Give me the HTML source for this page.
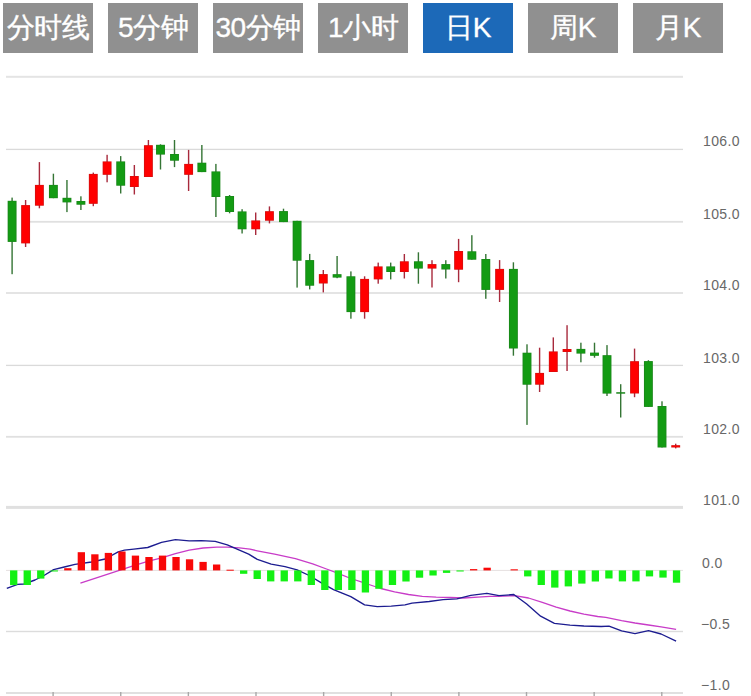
<!DOCTYPE html>
<html><head><meta charset="utf-8"><style>
html,body{margin:0;padding:0;background:#fff;width:751px;height:696px;overflow:hidden;position:relative}
.btn{position:absolute;top:3px;width:90px;height:50px;background:#909090;color:#fff;font-family:"Liberation Sans",sans-serif;font-size:28px;line-height:49px;text-align:center;white-space:nowrap;letter-spacing:-0.5px;-webkit-text-stroke:0.35px #fff}
.btn.on{background:#1c69b8}
svg{position:absolute;left:0;top:0}
.lb{font-family:"Liberation Sans",sans-serif;font-size:14px;fill:#686868;letter-spacing:0.4px}
</style></head><body>
<div class="btn" style="left:3px">分时线</div><div class="btn" style="left:108px">5分钟</div><div class="btn" style="left:213px">30分钟</div><div class="btn" style="left:318px">1小时</div><div class="btn on" style="left:423px">日K</div><div class="btn" style="left:528px">周K</div><div class="btn" style="left:633px">月K</div>
<svg width="751" height="696" viewBox="0 0 751 696">
<rect x="6" y="75.80" width="677" height="2" fill="#e4e4e4"/>
<rect x="6" y="148.75" width="677" height="1.3" fill="#dadada"/>
<rect x="30" y="220.90" width="653" height="1.8" fill="#e0e0e0"/>
<rect x="6" y="292.20" width="677" height="1.6" fill="#dedede"/>
<rect x="6" y="364.75" width="677" height="1.3" fill="#dadada"/>
<rect x="6" y="435.90" width="677" height="1.8" fill="#e0e0e0"/>
<rect x="6" y="505.90" width="677" height="3" fill="#e0e0e0"/>
<rect x="6" y="569.9" width="677" height="1" fill="#e6e0e0"/>
<rect x="6" y="630.8" width="677" height="1.4" fill="#dcdcdc"/>
<rect x="6" y="692" width="677" height="2" fill="#e0e0e0"/>
<rect x="52.41" y="692" width="1.4" height="4" fill="#a8a8a8"/>
<rect x="120.04" y="692" width="1.4" height="4" fill="#a8a8a8"/>
<rect x="187.67" y="692" width="1.4" height="4" fill="#a8a8a8"/>
<rect x="255.30" y="692" width="1.4" height="4" fill="#a8a8a8"/>
<rect x="322.93" y="692" width="1.4" height="4" fill="#a8a8a8"/>
<rect x="390.56" y="692" width="1.4" height="4" fill="#a8a8a8"/>
<rect x="458.19" y="692" width="1.4" height="4" fill="#a8a8a8"/>
<rect x="525.82" y="692" width="1.4" height="4" fill="#a8a8a8"/>
<rect x="593.45" y="692" width="1.4" height="4" fill="#a8a8a8"/>
<rect x="661.08" y="692" width="1.4" height="4" fill="#a8a8a8"/>
<text x="703" y="146" class="lb">106.0</text>
<text x="703" y="218.5" class="lb">105.0</text>
<text x="703" y="290" class="lb">104.0</text>
<text x="703" y="362.5" class="lb">103.0</text>
<text x="703" y="434" class="lb">102.0</text>
<text x="703" y="505" class="lb">101.0</text>
<text x="702" y="568" class="lb">0.0</text>
<text x="701" y="629" class="lb">−0.5</text>
<text x="701" y="690" class="lb">−1.0</text>
<rect x="11.40" y="197.6" width="1.4" height="76.6" fill="#357535"/>
<rect x="7.65" y="200.8" width="8.9" height="41.1" fill="#1a861a"/>
<rect x="8.45" y="201.4" width="7.3" height="39.9" fill="#139b13"/>
<rect x="24.90" y="200.0" width="1.4" height="47.0" fill="#a82a3c"/>
<rect x="21.15" y="205.1" width="8.9" height="38.3" fill="#d41010"/>
<rect x="21.95" y="205.7" width="7.3" height="37.1" fill="#ff0000"/>
<rect x="38.70" y="162.1" width="1.4" height="46.2" fill="#a82a3c"/>
<rect x="34.95" y="184.9" width="8.9" height="20.8" fill="#d41010"/>
<rect x="35.75" y="185.5" width="7.3" height="19.6" fill="#ff0000"/>
<rect x="52.70" y="173.7" width="1.4" height="24.5" fill="#357535"/>
<rect x="48.95" y="184.9" width="8.9" height="13.3" fill="#1a861a"/>
<rect x="49.75" y="185.5" width="7.3" height="12.1" fill="#139b13"/>
<rect x="66.25" y="180.0" width="1.4" height="32.1" fill="#357535"/>
<rect x="62.50" y="197.8" width="8.9" height="4.6" fill="#1a861a"/>
<rect x="63.30" y="198.4" width="7.3" height="3.4" fill="#139b13"/>
<rect x="80.20" y="196.3" width="1.4" height="13.7" fill="#357535"/>
<rect x="76.45" y="201.0" width="8.9" height="3.7" fill="#1a861a"/>
<rect x="77.25" y="201.6" width="7.3" height="2.5" fill="#139b13"/>
<rect x="92.60" y="172.6" width="1.4" height="33.6" fill="#a82a3c"/>
<rect x="88.85" y="173.9" width="8.9" height="29.9" fill="#d41010"/>
<rect x="89.65" y="174.5" width="7.3" height="28.7" fill="#ff0000"/>
<rect x="106.40" y="154.8" width="1.4" height="27.5" fill="#a82a3c"/>
<rect x="102.65" y="161.4" width="8.9" height="13.4" fill="#d41010"/>
<rect x="103.45" y="162.0" width="7.3" height="12.2" fill="#ff0000"/>
<rect x="120.00" y="156.1" width="1.4" height="37.4" fill="#357535"/>
<rect x="116.25" y="161.4" width="8.9" height="24.3" fill="#1a861a"/>
<rect x="117.05" y="162.0" width="7.3" height="23.1" fill="#139b13"/>
<rect x="133.65" y="165.0" width="1.4" height="29.5" fill="#a82a3c"/>
<rect x="129.90" y="176.0" width="8.9" height="11.0" fill="#d41010"/>
<rect x="130.70" y="176.6" width="7.3" height="9.8" fill="#ff0000"/>
<rect x="147.70" y="140.0" width="1.4" height="37.0" fill="#a82a3c"/>
<rect x="143.95" y="145.2" width="8.9" height="31.8" fill="#d41010"/>
<rect x="144.75" y="145.8" width="7.3" height="30.6" fill="#ff0000"/>
<rect x="159.80" y="144.3" width="1.4" height="25.2" fill="#357535"/>
<rect x="156.05" y="144.8" width="8.9" height="9.8" fill="#1a861a"/>
<rect x="156.85" y="145.4" width="7.3" height="8.6" fill="#139b13"/>
<rect x="173.80" y="140.0" width="1.4" height="27.1" fill="#357535"/>
<rect x="170.05" y="154.0" width="8.9" height="6.7" fill="#1a861a"/>
<rect x="170.85" y="154.6" width="7.3" height="5.5" fill="#139b13"/>
<rect x="187.90" y="149.9" width="1.4" height="41.1" fill="#a82a3c"/>
<rect x="184.15" y="163.9" width="8.9" height="10.9" fill="#d41010"/>
<rect x="184.95" y="164.5" width="7.3" height="9.7" fill="#ff0000"/>
<rect x="201.15" y="145.0" width="1.4" height="27.1" fill="#357535"/>
<rect x="197.40" y="162.7" width="8.9" height="9.4" fill="#1a861a"/>
<rect x="198.20" y="163.3" width="7.3" height="8.2" fill="#139b13"/>
<rect x="215.20" y="163.9" width="1.4" height="53.1" fill="#357535"/>
<rect x="211.45" y="171.4" width="8.9" height="25.6" fill="#1a861a"/>
<rect x="212.25" y="172.0" width="7.3" height="24.4" fill="#139b13"/>
<rect x="228.90" y="195.0" width="1.4" height="18.3" fill="#357535"/>
<rect x="225.15" y="196.0" width="8.9" height="16.0" fill="#1a861a"/>
<rect x="225.95" y="196.6" width="7.3" height="14.8" fill="#139b13"/>
<rect x="241.40" y="209.2" width="1.4" height="24.3" fill="#357535"/>
<rect x="237.65" y="211.4" width="8.9" height="17.9" fill="#1a861a"/>
<rect x="238.45" y="212.0" width="7.3" height="16.7" fill="#139b13"/>
<rect x="255.00" y="212.5" width="1.4" height="22.5" fill="#a82a3c"/>
<rect x="251.25" y="220.4" width="8.9" height="8.9" fill="#d41010"/>
<rect x="252.05" y="221.0" width="7.3" height="7.7" fill="#ff0000"/>
<rect x="268.75" y="206.4" width="1.4" height="17.0" fill="#a82a3c"/>
<rect x="265.00" y="211.2" width="8.9" height="9.5" fill="#d41010"/>
<rect x="265.80" y="211.8" width="7.3" height="8.3" fill="#ff0000"/>
<rect x="282.80" y="208.7" width="1.4" height="13.4" fill="#357535"/>
<rect x="279.05" y="211.1" width="8.9" height="11.0" fill="#1a861a"/>
<rect x="279.85" y="211.7" width="7.3" height="9.8" fill="#139b13"/>
<rect x="296.40" y="220.8" width="1.4" height="66.8" fill="#357535"/>
<rect x="292.65" y="220.8" width="8.9" height="39.9" fill="#1a861a"/>
<rect x="293.45" y="221.4" width="7.3" height="38.7" fill="#139b13"/>
<rect x="309.00" y="253.9" width="1.4" height="35.5" fill="#357535"/>
<rect x="305.25" y="260.1" width="8.9" height="25.6" fill="#1a861a"/>
<rect x="306.05" y="260.7" width="7.3" height="24.4" fill="#139b13"/>
<rect x="322.60" y="270.0" width="1.4" height="22.4" fill="#a82a3c"/>
<rect x="318.85" y="274.1" width="8.9" height="9.4" fill="#d41010"/>
<rect x="319.65" y="274.7" width="7.3" height="8.2" fill="#ff0000"/>
<rect x="336.40" y="256.0" width="1.4" height="22.2" fill="#357535"/>
<rect x="332.65" y="274.2" width="8.9" height="3.4" fill="#1a861a"/>
<rect x="333.45" y="274.8" width="7.3" height="2.2" fill="#139b13"/>
<rect x="350.20" y="271.4" width="1.4" height="47.3" fill="#357535"/>
<rect x="346.45" y="276.3" width="8.9" height="35.8" fill="#1a861a"/>
<rect x="347.25" y="276.9" width="7.3" height="34.6" fill="#139b13"/>
<rect x="363.90" y="276.3" width="1.4" height="42.4" fill="#a82a3c"/>
<rect x="360.15" y="278.9" width="8.9" height="33.2" fill="#d41010"/>
<rect x="360.95" y="279.5" width="7.3" height="32.0" fill="#ff0000"/>
<rect x="377.50" y="262.6" width="1.4" height="21.1" fill="#a82a3c"/>
<rect x="373.75" y="266.4" width="8.9" height="13.0" fill="#d41010"/>
<rect x="374.55" y="267.0" width="7.3" height="11.8" fill="#ff0000"/>
<rect x="390.00" y="262.6" width="1.4" height="16.8" fill="#357535"/>
<rect x="386.25" y="266.4" width="8.9" height="5.6" fill="#1a861a"/>
<rect x="387.05" y="267.0" width="7.3" height="4.4" fill="#139b13"/>
<rect x="403.65" y="254.0" width="1.4" height="24.5" fill="#a82a3c"/>
<rect x="399.90" y="261.3" width="8.9" height="10.7" fill="#d41010"/>
<rect x="400.70" y="261.9" width="7.3" height="9.5" fill="#ff0000"/>
<rect x="417.70" y="252.3" width="1.4" height="31.4" fill="#357535"/>
<rect x="413.95" y="261.3" width="8.9" height="7.3" fill="#1a861a"/>
<rect x="414.75" y="261.9" width="7.3" height="6.1" fill="#139b13"/>
<rect x="431.30" y="260.2" width="1.4" height="27.3" fill="#a82a3c"/>
<rect x="427.55" y="264.1" width="8.9" height="4.5" fill="#d41010"/>
<rect x="428.35" y="264.7" width="7.3" height="3.3" fill="#ff0000"/>
<rect x="445.10" y="260.2" width="1.4" height="18.3" fill="#357535"/>
<rect x="441.35" y="264.1" width="8.9" height="5.4" fill="#1a861a"/>
<rect x="442.15" y="264.7" width="7.3" height="4.2" fill="#139b13"/>
<rect x="457.90" y="238.9" width="1.4" height="43.3" fill="#a82a3c"/>
<rect x="454.15" y="251.0" width="8.9" height="18.7" fill="#d41010"/>
<rect x="454.95" y="251.6" width="7.3" height="17.5" fill="#ff0000"/>
<rect x="471.15" y="235.2" width="1.4" height="24.5" fill="#357535"/>
<rect x="467.40" y="251.3" width="8.9" height="8.4" fill="#1a861a"/>
<rect x="468.20" y="251.9" width="7.3" height="7.2" fill="#139b13"/>
<rect x="485.10" y="254.0" width="1.4" height="44.8" fill="#357535"/>
<rect x="481.35" y="259.0" width="8.9" height="30.9" fill="#1a861a"/>
<rect x="482.15" y="259.6" width="7.3" height="29.7" fill="#139b13"/>
<rect x="498.90" y="260.1" width="1.4" height="41.9" fill="#a82a3c"/>
<rect x="495.15" y="268.9" width="8.9" height="21.0" fill="#d41010"/>
<rect x="495.95" y="269.5" width="7.3" height="19.8" fill="#ff0000"/>
<rect x="512.70" y="262.3" width="1.4" height="93.4" fill="#357535"/>
<rect x="508.95" y="268.9" width="8.9" height="79.6" fill="#1a861a"/>
<rect x="509.75" y="269.5" width="7.3" height="78.4" fill="#139b13"/>
<rect x="526.30" y="344.3" width="1.4" height="80.6" fill="#357535"/>
<rect x="522.55" y="352.7" width="8.9" height="32.0" fill="#1a861a"/>
<rect x="523.35" y="353.3" width="7.3" height="30.8" fill="#139b13"/>
<rect x="538.90" y="347.7" width="1.4" height="44.3" fill="#a82a3c"/>
<rect x="535.15" y="372.9" width="8.9" height="11.8" fill="#d41010"/>
<rect x="535.95" y="373.5" width="7.3" height="10.6" fill="#ff0000"/>
<rect x="552.60" y="337.4" width="1.4" height="34.6" fill="#a82a3c"/>
<rect x="548.85" y="351.4" width="8.9" height="20.6" fill="#d41010"/>
<rect x="549.65" y="352.0" width="7.3" height="19.4" fill="#ff0000"/>
<rect x="566.35" y="325.2" width="1.4" height="45.8" fill="#a82a3c"/>
<rect x="562.60" y="349.0" width="8.9" height="3.0" fill="#d41010"/>
<rect x="563.40" y="349.6" width="7.3" height="1.8" fill="#ff0000"/>
<rect x="580.20" y="342.7" width="1.4" height="19.6" fill="#357535"/>
<rect x="576.45" y="348.9" width="8.9" height="4.7" fill="#1a861a"/>
<rect x="577.25" y="349.5" width="7.3" height="3.5" fill="#139b13"/>
<rect x="593.80" y="342.7" width="1.4" height="15.0" fill="#357535"/>
<rect x="590.05" y="352.6" width="8.9" height="3.2" fill="#1a861a"/>
<rect x="590.85" y="353.2" width="7.3" height="2.0" fill="#139b13"/>
<rect x="606.30" y="345.1" width="1.4" height="50.9" fill="#357535"/>
<rect x="602.55" y="355.2" width="8.9" height="38.4" fill="#1a861a"/>
<rect x="603.35" y="355.8" width="7.3" height="37.2" fill="#139b13"/>
<rect x="620.00" y="384.2" width="1.4" height="33.3" fill="#357535"/>
<rect x="616.25" y="392.2" width="8.9" height="1.5" fill="#1a861a"/>
<rect x="633.85" y="348.6" width="1.4" height="48.6" fill="#a82a3c"/>
<rect x="630.10" y="361.2" width="8.9" height="32.3" fill="#d41010"/>
<rect x="630.90" y="361.8" width="7.3" height="31.1" fill="#ff0000"/>
<rect x="647.70" y="360.2" width="1.4" height="46.7" fill="#357535"/>
<rect x="643.95" y="361.1" width="8.9" height="45.8" fill="#1a861a"/>
<rect x="644.75" y="361.7" width="7.3" height="44.6" fill="#139b13"/>
<rect x="661.30" y="401.3" width="1.4" height="46.2" fill="#357535"/>
<rect x="657.55" y="406.0" width="8.9" height="41.5" fill="#1a861a"/>
<rect x="658.35" y="406.6" width="7.3" height="40.3" fill="#139b13"/>
<rect x="675.00" y="443.7" width="1.4" height="4.7" fill="#a82a3c"/>
<rect x="671.25" y="445.2" width="8.9" height="2.3" fill="#d41010"/>
<rect x="672.05" y="445.8" width="7.3" height="1.1" fill="#ff0000"/>
<polyline fill="none" stroke="#c83cc8" stroke-width="1.3" stroke-linejoin="round" points="80.4,583.2 133.8,565.7 147.7,561.4 161.5,557.9 175.4,553.6 189.2,550.1 203.1,548.0 216.9,547.2 227.3,547.2 239.4,547.8 250.0,549.2 257.3,550.8 274.6,554.2 295.4,558.6 312.7,563.8 326.5,569.0 336.9,572.9 350.8,578.5 361.2,581.9 370.4,585.0 380.8,588.5 394.6,591.9 408.5,594.5 422.3,596.3 436.2,597.1 450.0,597.5 463.9,598.0 477.7,597.1 490.0,596.3 497.3,596.3 514.6,595.7 528.5,598.0 542.3,602.3 556.2,607.2 570.0,611.0 583.9,614.1 597.7,616.5 605.8,617.4 621.6,620.6 635.0,623.0 648.5,625.0 661.1,626.9 676.1,629.3"/>
<polyline fill="none" stroke="#1c1c90" stroke-width="1.35" stroke-linejoin="round" points="6.8,588.3 17.6,584.3 24.0,584.0 35.0,580.0 44.0,575.5 53.6,569.6 64.3,567.0 75.0,564.3 91.5,562.0 105.2,559.0 118.2,551.8 124.5,550.2 133.8,549.2 147.7,547.5 161.5,542.3 175.4,539.7 189.2,540.9 201.4,540.6 215.2,541.4 227.3,544.9 239.4,550.1 248.7,554.2 257.3,559.4 271.2,564.1 285.0,566.7 297.1,569.8 309.2,575.5 321.4,582.8 333.5,589.7 350.8,596.6 364.6,604.8 377.3,606.6 391.2,606.1 405.0,604.9 412.0,603.2 429.2,601.5 443.1,599.7 456.9,598.9 470.8,595.4 486.9,593.3 499.0,595.7 513.8,594.5 526.7,604.0 540.6,616.2 554.4,623.4 570.0,625.2 583.9,626.0 601.2,626.5 609.0,626.1 621.6,630.9 635.0,633.6 648.5,630.6 661.1,634.0 676.1,641.2"/>
<rect x="10.06" y="570.4" width="7.3" height="14.7" fill="#14f014"/>
<rect x="23.59" y="570.4" width="7.3" height="14.6" fill="#14f014"/>
<rect x="37.11" y="570.4" width="7.3" height="8.2" fill="#14f014"/>
<rect x="50.64" y="570.4" width="7.3" height="1.1" fill="#14f014"/>
<rect x="64.17" y="568.2" width="7.3" height="2.2" fill="#f80808"/>
<rect x="77.69" y="552.2" width="7.3" height="18.2" fill="#f80808"/>
<rect x="91.22" y="554.3" width="7.3" height="16.1" fill="#f80808"/>
<rect x="104.75" y="552.9" width="7.3" height="17.5" fill="#f80808"/>
<rect x="118.28" y="551.5" width="7.3" height="18.9" fill="#f80808"/>
<rect x="131.80" y="555.6" width="7.3" height="14.8" fill="#f80808"/>
<rect x="145.33" y="557.0" width="7.3" height="13.4" fill="#f80808"/>
<rect x="158.86" y="555.6" width="7.3" height="14.8" fill="#f80808"/>
<rect x="172.38" y="557.0" width="7.3" height="13.4" fill="#f80808"/>
<rect x="185.91" y="559.3" width="7.3" height="11.1" fill="#f80808"/>
<rect x="199.44" y="561.9" width="7.3" height="8.5" fill="#f80808"/>
<rect x="212.97" y="564.5" width="7.3" height="5.9" fill="#f80808"/>
<rect x="226.49" y="569.7" width="7.3" height="1.0" fill="#f80808"/>
<rect x="240.02" y="570.4" width="7.3" height="3.4" fill="#14f014"/>
<rect x="253.55" y="570.4" width="7.3" height="8.6" fill="#14f014"/>
<rect x="267.07" y="570.4" width="7.3" height="11.0" fill="#14f014"/>
<rect x="280.60" y="570.4" width="7.3" height="11.0" fill="#14f014"/>
<rect x="294.13" y="570.4" width="7.3" height="11.0" fill="#14f014"/>
<rect x="307.65" y="570.4" width="7.3" height="14.6" fill="#14f014"/>
<rect x="321.18" y="570.4" width="7.3" height="19.6" fill="#14f014"/>
<rect x="334.71" y="570.4" width="7.3" height="19.6" fill="#14f014"/>
<rect x="348.23" y="570.4" width="7.3" height="19.6" fill="#14f014"/>
<rect x="361.76" y="570.4" width="7.3" height="22.1" fill="#14f014"/>
<rect x="375.29" y="570.4" width="7.3" height="18.4" fill="#14f014"/>
<rect x="388.82" y="570.4" width="7.3" height="14.6" fill="#14f014"/>
<rect x="402.34" y="570.4" width="7.3" height="11.1" fill="#14f014"/>
<rect x="415.87" y="570.4" width="7.3" height="7.3" fill="#14f014"/>
<rect x="429.40" y="570.4" width="7.3" height="5.1" fill="#14f014"/>
<rect x="442.92" y="570.4" width="7.3" height="2.5" fill="#14f014"/>
<rect x="456.45" y="570.4" width="7.3" height="1.1" fill="#14f014"/>
<rect x="469.98" y="569.1" width="7.3" height="1.3" fill="#f80808"/>
<rect x="483.50" y="567.7" width="7.3" height="2.7" fill="#f80808"/>
<rect x="510.56" y="569.3" width="7.3" height="1.1" fill="#f80808"/>
<rect x="524.09" y="570.4" width="7.3" height="6.0" fill="#14f014"/>
<rect x="537.61" y="570.4" width="7.3" height="14.6" fill="#14f014"/>
<rect x="551.14" y="570.4" width="7.3" height="17.2" fill="#14f014"/>
<rect x="564.67" y="570.4" width="7.3" height="16.0" fill="#14f014"/>
<rect x="578.19" y="570.4" width="7.3" height="13.2" fill="#14f014"/>
<rect x="591.72" y="570.4" width="7.3" height="11.1" fill="#14f014"/>
<rect x="605.25" y="570.4" width="7.3" height="8.1" fill="#14f014"/>
<rect x="618.77" y="570.4" width="7.3" height="11.0" fill="#14f014"/>
<rect x="632.30" y="570.4" width="7.3" height="11.0" fill="#14f014"/>
<rect x="645.83" y="570.4" width="7.3" height="6.0" fill="#14f014"/>
<rect x="659.36" y="570.4" width="7.3" height="7.2" fill="#14f014"/>
<rect x="672.88" y="570.4" width="7.3" height="12.3" fill="#14f014"/>
</svg>
</body></html>
